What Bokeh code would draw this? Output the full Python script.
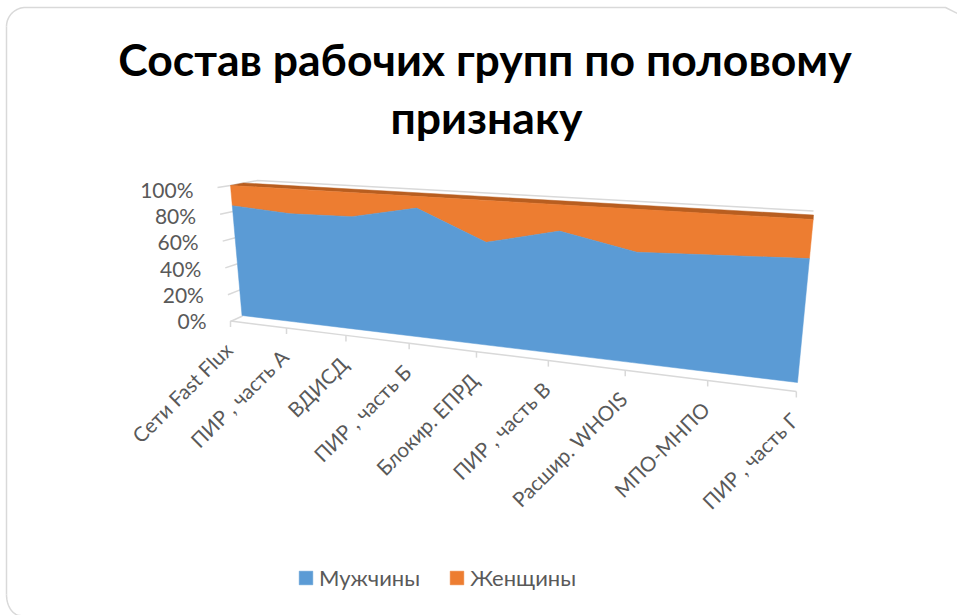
import numpy as np
from bokeh.plotting import figure
from bokeh.models import Range1d, Legend, LegendItem
from bokeh.core.properties import value
from bokeh.embed import file_html
from bokeh.resources import INLINE

title_lines = ["Состав рабочих групп по половому", "признаку"]
categories = ["Сети Fast Flux", "ПИР , часть А", "ВДИСД", "ПИР , часть Б", "Блокир. ЕПРД",
              "ПИР , часть В", "Расшир. WHOIS", "МПО-МНПО", "ПИР , часть Г"]
men = [85, 82, 83, 92, 72, 83, 73, 75, 77]
women = [15, 18, 17, 8, 28, 17, 27, 25, 23]
pct_ticks = [0, 20, 40, 60, 80, 100]
pct_labels = ["0%", "20%", "40%", "60%", "80%", "100%"]

FONT = "Lato"
GREY = "#595959"
BLUE = "#5B9BD5"
ORANGE = "#ED7D31"
BROWN = "#B85E20"
RULE = "#D9D9D9"


def homography(src, dst):
    A, b = [], []
    for (u, v), (x, y) in zip(src, dst):
        A.append([u, v, 1, 0, 0, 0, -u * x, -v * x]); b.append(x)
        A.append([0, 0, 0, u, v, 1, -u * y, -v * y]); b.append(y)
    h = np.linalg.solve(np.array(A, float), np.array(b, float))
    return np.append(h, 1).reshape(3, 3)


# 3-D look: the front plane of the area series, projected onto the page
H = homography([(0, 0), (8, 0), (8, 100), (0, 100)],
               [(241.5, 315), (797, 382), (812.7, 219), (230, 185)])


def project(u, v):
    u, v = np.asarray(u, float), np.asarray(v, float)
    w = H[2, 0] * u + H[2, 1] * v + H[2, 2]
    return (H[0, 0] * u + H[0, 1] * v + H[0, 2]) / w, (H[1, 0] * u + H[1, 1] * v + H[1, 2]) / w


W, HT = 957, 615
p = figure(width=W, height=HT, output_backend="svg", toolbar_location=None,
           x_range=Range1d(0, W), y_range=Range1d(HT, 0),
           min_border=0, outline_line_color=None, background_fill_color="white")
p.xaxis.visible = False
p.yaxis.visible = False
p.grid.visible = False

# rounded chart frame
t = np.linspace(0, np.pi / 2, 20)
p.line(np.concatenate([25 - 19 * np.cos(t), [945, 957]]),
       np.concatenate([26 - 19 * np.sin(t), [7, 13]]), line_color=RULE, line_width=1.5)
p.line([6, 6], [26, 594], line_color=RULE, line_width=1.5)
p.line(6 + 14 * (1 - np.cos(t)), 594 + 21 * np.sin(t), line_color=RULE, line_width=1.5)

# floor / back edges
p.line([230, 257, 813], [185, 180, 210.5], line_color=RULE, line_width=1.5)

n = len(categories)
idx = np.arange(n)
tu = idx / (n - 1)
c = -0.231
tick_x = (382 * tu + 230) / (1 + c * tu)
tick_y = 320.5 + (tick_x - 230) * (391 - 320.5) / (796 - 230)
p.line(tick_x, tick_y, line_color=RULE, line_width=1.5)
p.segment(tick_x, tick_y, tick_x, tick_y + 6, line_color=RULE, line_width=1.5)

frac = np.array(pct_ticks) / 100
y0 = 321 + (187 - 321) * frac
x0 = 230 + (217 - 230) * frac
y1 = 315.5 + (185 - 315.5) * frac
x1 = 242 + (230 - 242) * frac
p.segment(x0, y0, x1, y1, line_color=RULE, line_width=1.5)

# stacked areas
men_a, women_a = np.array(men, float), np.array(women, float)
zero = np.zeros(n)
xb, yb = project(idx, zero)
xm, ym = project(idx, men_a)
xt, yt = project(idx, men_a + women_a)

xb_top = np.array([243, 813.0])
yb_top = np.array([182.5, 214.5])
p.patch(np.concatenate([[xt[0], xb_top[0], xb_top[1], xt[-1]]]),
        np.concatenate([[yt[0], yb_top[0], yb_top[1], yt[-1]]]),
        fill_color=BROWN, line_color=BROWN, line_width=0.5)
r_w = p.patch(np.concatenate([xt, xm[::-1]]), np.concatenate([yt, ym[::-1]]),
              fill_color=ORANGE, line_color=ORANGE, line_width=0.5)
r_m = p.patch(np.concatenate([xm, xb[::-1]]), np.concatenate([ym, yb[::-1]]),
              fill_color=BLUE, line_color=BLUE, line_width=0.5)

# title
p.text([484.5, 486], [58, 116], text=title_lines, text_font=value(FONT), text_font_style="bold",
       text_font_size="44.5px", text_color="#000000", text_align="center", text_baseline="middle")

# value labels
p.text(193 + 13 * (1 - frac), 320 + (189 - 320) * frac, text=pct_labels, text_font=value(FONT),
       text_font_size="21px", text_color=GREY, text_align="right", text_baseline="middle")

# category labels
p.text(tick_x - 2, tick_y + 25, text=categories, angle=np.pi / 4, text_font=value(FONT),
       text_font_size="20.5px", text_color=GREY, text_align="right", text_baseline="middle")

legend = Legend(items=[LegendItem(label="Мужчины", renderers=[r_m]),
                       LegendItem(label="Женщины", renderers=[r_w])],
                orientation="horizontal", location=(297, 24), glyph_width=17, glyph_height=17,
                label_text_font=FONT, label_text_font_size="22px", label_text_color=GREY,
                background_fill_alpha=0, border_line_color=None, spacing=28, padding=6,
                label_standoff=5, label_height=20)
p.add_layout(legend)

open("out.html", "w").write(file_html(p, INLINE))
